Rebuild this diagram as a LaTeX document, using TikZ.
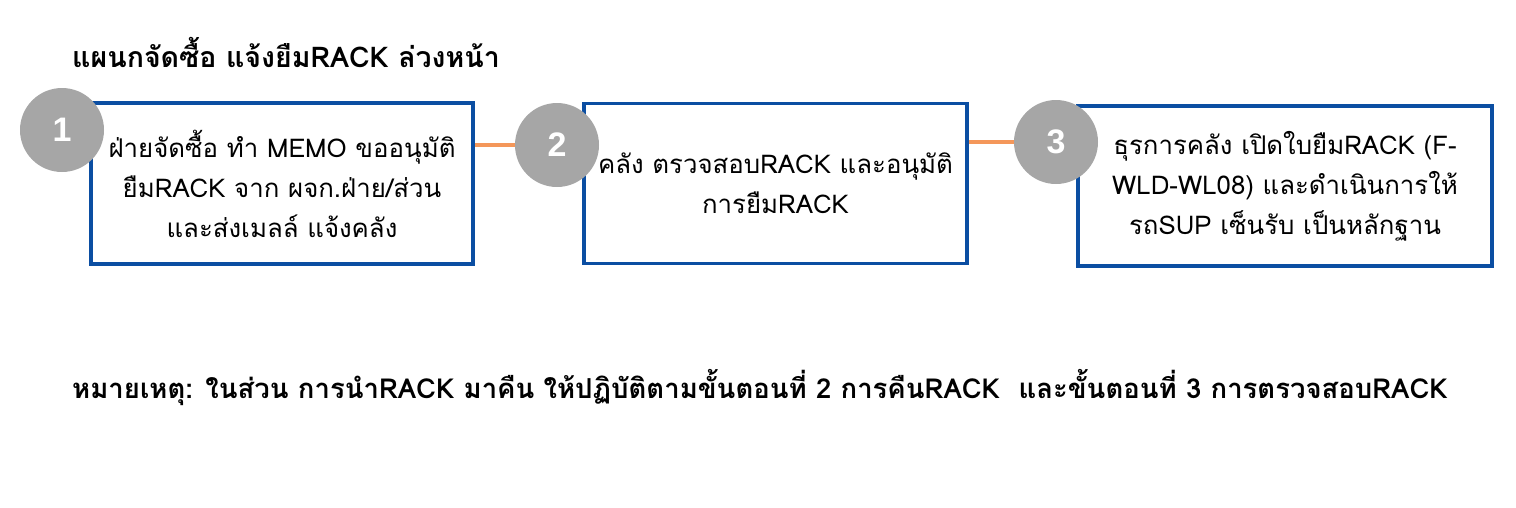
\documentclass[tikz,border=0pt]{standalone}
\usepackage{fontspec}
\setmainfont[Script=Thai]{Loma}
\newfontfamily\numfont{Liberation Sans}
\usetikzlibrary{arrows}
\definecolor{boxblue}{HTML}{0B4EA2}
\definecolor{stepgray}{HTML}{A6A6A6}
\definecolor{linkorange}{HTML}{F4975A}
\tikzset{
  stepbox/.style={draw=boxblue, line width=3.8pt, fill=white, align=center,
    font=\fontsize{25.8}{40}\selectfont},
  stepnum/.style={circle, fill=stepgray, minimum size=84pt, inner sep=0pt,
    text=white, font=\numfont\bfseries\fontsize{34}{34}\selectfont},
  link/.style={draw=linkorange, line width=3.2pt},
  heading/.style={anchor=west, inner sep=0pt, font=\bfseries\fontsize{28.5}{32}\selectfont}
}

\begin{document}
\begin{tikzpicture}[x=1pt, y=-1pt]
    \useasboundingbox (0, 0) rectangle (1516, 507);
    \node[heading] (title) at (72, 52) {แผนกจัดซื้อ แจ้งยืมRACK ล่วงหน้า};
    \node[stepbox, minimum width=382pt, minimum height=161pt] (b1) at (282, 183.5)
      {ฝ่ายจัดซื้อ ทำ MEMO ขออนุมัติ\\ยืมRACK จาก ผจก.ฝ่าย/ส่วน\\และส่งเมลล์ แจ้งคลัง};
    \node[stepbox, minimum width=383pt, minimum height=160pt] (b2) at (775.5, 183.5)
      {คลัง ตรวจสอบRACK และอนุมัติ\\การยืมRACK};
    \node[stepbox, minimum width=414pt, minimum height=160pt] (b3) at (1285, 186)
      {ธุรการคลัง เปิดใบยืมRACK (F-\\WLD-WL08) และดำเนินการให้\\รถSUP เซ็นรับ เป็นหลักฐาน};
    \node[stepnum] (c1) at (62, 130) {1};
    \node[stepnum] (c2) at (557, 145) {2};
    \node[stepnum] (c3) at (1056, 142) {3};
    \draw[link] (c2.west -| b1.east) -- (c2.west);
    \draw[link] (c3.west -| b2.east) -- (c3.west);
    \node[heading, font=\bfseries\fontsize{27.5}{32}\selectfont] (note) at (72, 388)
      {หมายเหตุ: ในส่วน การนำRACK มาคืน ให้ปฏิบัติตามขั้นตอนที่ 2 การคืนRACK\ \ และขั้นตอนที่ 3 การตรวจสอบRACK};
  \end{tikzpicture}
\end{document}
